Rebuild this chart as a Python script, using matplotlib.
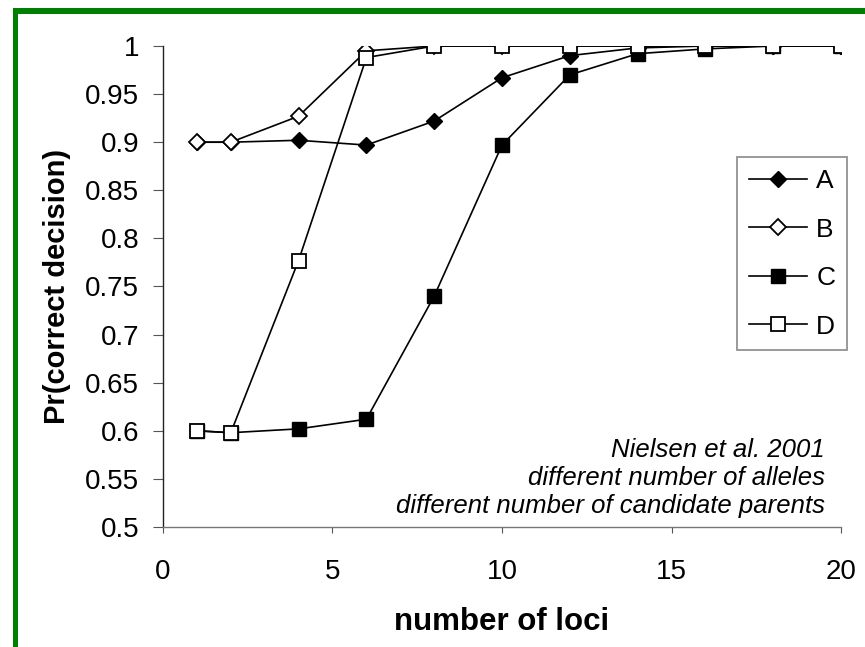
import numpy as np
import matplotlib
matplotlib.use("Agg")
import matplotlib.pyplot as plt
from matplotlib.patches import Rectangle

plt.rcParams['font.family'] = ['Liberation Sans', 'DejaVu Sans']

loci = [1, 2, 4, 6, 8, 10, 12, 14, 16, 18, 20]
series_a = [0.900, 0.900, 0.902, 0.897, 0.922, 0.967, 0.990, 0.998, 1.000, 1.000, 1.000]
series_b = [0.900, 0.900, 0.927, 0.995, 1.000, 1.000, 1.000, 1.000, 1.000, 1.000, 1.000]
series_c = [0.600, 0.598, 0.602, 0.612, 0.740, 0.897, 0.970, 0.992, 0.997, 1.000, 1.000]
series_d = [0.600, 0.598, 0.777, 0.988, 1.000, 1.000, 1.000, 1.000, 1.000, 1.000, 1.000]

x_ticks = [0, 5, 10, 15, 20]
y_ticks = [0.5, 0.55, 0.6, 0.65, 0.7, 0.75, 0.8, 0.85, 0.9, 0.95, 1.0]
y_labels = ["0.5", "0.55", "0.6", "0.65", "0.7", "0.75", "0.8", "0.85", "0.9", "0.95", "1"]

fig = plt.figure(figsize=(8.65, 6.47), dpi=100)
ax = fig.add_axes([0.1884, 0.1855, 0.7839, 0.7434])

lw = 1.2
ax.plot(loci, series_c, color='black', lw=lw, marker='s', ms=10, mfc='black', mec='black', label='C', zorder=3)
ax.plot(loci, series_a, color='black', lw=lw, marker='D', ms=8, mfc='black', mec='black', label='A', zorder=4)
ax.plot(loci, series_b, color='black', lw=lw, marker='D', ms=8, mfc='white', mec='black', mew=1.3, label='B', zorder=5)
ax.plot(loci, series_d, color='black', lw=lw, marker='s', ms=10, mfc='white', mec='black', mew=1.3, label='D', zorder=6)

ax.set_xlim(0, 20)
ax.set_ylim(0.5, 1.0)
ax.set_xticks(x_ticks)
ax.set_yticks(y_ticks)
ax.set_yticklabels(y_labels)
ax.tick_params(axis='both', labelsize=20, color='#555555', direction='out')
ax.tick_params(axis='y', length=7, pad=10)
ax.tick_params(axis='x', length=4, pad=19)

for side in ['top', 'right']:
    ax.spines[side].set_visible(False)
ax.spines['bottom'].set_color('#777777')
ax.spines['bottom'].set_linewidth(1.0)
ax.spines['left'].set_color('#222222')
ax.spines['left'].set_linewidth(1.0)

ax.set_xlabel("number of loci", fontsize=22.5, fontweight='bold', labelpad=16)
ax.set_ylabel("Pr(correct decision)", fontsize=21, fontweight='bold', labelpad=10)

handles, labels = ax.get_legend_handles_labels()
order = [labels.index(k) for k in ['A', 'B', 'C', 'D']]
leg = ax.legend([handles[i] for i in order], [labels[i] for i in order],
                loc='upper right', bbox_to_anchor=(1.009, 0.769), fontsize=19,
                frameon=True, fancybox=False, edgecolor='#777777',
                handlelength=2.2, labelspacing=0.93, borderpad=0.45,
                handletextpad=0.35, borderaxespad=0)
leg.get_frame().set_linewidth(1.3)

ax.text(0.976, 0.185, "Nielsen et al. 2001\ndifferent number of alleles\ndifferent number of candidate parents",
        transform=ax.transAxes, ha='right', va='top', fontsize=18.5, style='italic',
        linespacing=1.2)

# green frame at top and left
fig.add_artist(Rectangle((13 / 865, 0), 5 / 865, 1 - 8 / 647, transform=fig.transFigure,
                         color='#008000', lw=0))
fig.add_artist(Rectangle((13 / 865, 1 - 14 / 647), 1, 6 / 647, transform=fig.transFigure,
                         color='#008000', lw=0))

fig.savefig("out.png", dpi=100)
